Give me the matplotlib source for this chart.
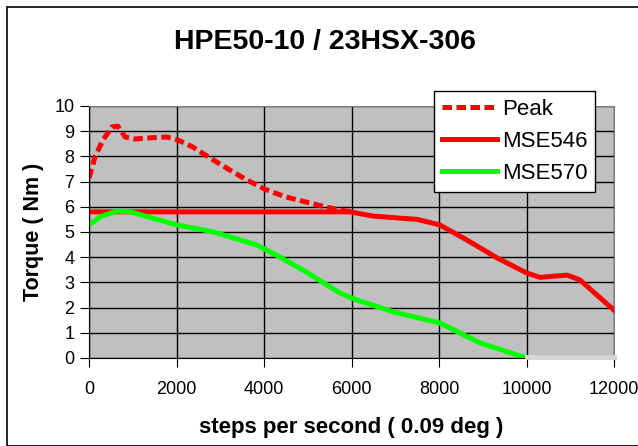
import matplotlib.pyplot as plt
from matplotlib.patches import Rectangle

plt.rcParams['font.family'] = ['Liberation Sans', 'DejaVu Sans']

# Peak torque curve (dashed)
peak_x = [0, 137, 320, 525, 660, 825, 1050, 1325, 1780, 2035, 2375, 2765, 3180,
          3610, 4020, 4480, 4935, 5440, 5965]
peak_y = [7.14, 7.98, 8.65, 9.17, 9.2, 8.77, 8.69, 8.73, 8.77, 8.65, 8.37, 7.94,
          7.5, 7.06, 6.7, 6.4, 6.2, 5.98, 5.8]

# MSE546 drive
mse546_x = [0, 1000, 2000, 3000, 4000, 5000, 5965, 6500, 7500, 8020, 8640, 9330,
            10010, 10310, 10930, 11220, 12000]
mse546_y = [5.8, 5.8, 5.8, 5.8, 5.8, 5.8, 5.8, 5.63, 5.5, 5.28, 4.68, 3.97,
            3.37, 3.2, 3.29, 3.1, 1.9]

# MSE570 drive
mse570_x = [0, 250, 640, 940, 2010, 2850, 3840, 4370, 4890, 5735, 6125, 6950,
            8020, 8935, 10000]
mse570_y = [5.28, 5.6, 5.83, 5.8, 5.28, 5.0, 4.48, 4.0, 3.49, 2.58, 2.3, 1.83,
            1.39, 0.6, 0.0]

fig = plt.figure(figsize=(6.38, 4.46), dpi=100)
fig.patches.append(Rectangle((7 / 638, 0), 1, 1 - 7 / 446, transform=fig.transFigure,
                             fill=False, edgecolor='black', linewidth=1.2))
ax = fig.add_axes([89 / 638, 88 / 446, 525 / 638, 252 / 446])
ax.set_facecolor('#c0c0c0')

ax.plot(peak_x, peak_y, color='#ff0000', lw=3.6, linestyle=(0, (1.9, 0.9)), label='Peak')
ax.plot(mse546_x, mse546_y, color='#ff0000', lw=3.6, label='MSE546')
ax.plot(mse570_x, mse570_y, color='#00ff00', lw=3.6, label='MSE570')
ax.plot([10000, 12000], [0.03, 0.03], color='#d4d4d4', lw=3.5, zorder=3, clip_on=False)

ax.set_xlim(0, 12000)
ax.set_ylim(0, 10)
ax.set_xticks(range(0, 12001, 2000))
ax.set_yticks(range(0, 11))
ax.grid(True, color='black', linewidth=1)
ax.set_axisbelow(True)
for s in ax.spines.values():
    s.set_color('#808080')
ax.spines['left'].set_color('black')
ax.spines['bottom'].set_color('black')
ax.tick_params(labelsize=13, length=6.5, direction='out')
ax.tick_params(axis='x', pad=10)
ax.tick_params(axis='y', pad=4)

fig.text(325 / 638, 1 - 42 / 446, 'HPE50-10 / 23HSX-306', fontsize=20.5,
         fontweight='bold', ha='center', va='center')
fig.text(351 / 638, 1 - 427 / 446, 'steps per second ( 0.09 deg )', fontsize=16,
         fontweight='bold', ha='center', va='center')
fig.text(33 / 638, 1 - 232 / 446, 'Torque ( Nm )', fontsize=15.5,
         fontweight='bold', ha='center', va='center', rotation=90)

leg = ax.legend(loc='upper left', bbox_to_anchor=(345 / 525, 1 + 15 / 252), fontsize=16,
                fancybox=False, framealpha=1, edgecolor='black', borderpad=0.35,
                handlelength=2.5, handletextpad=0.2, labelspacing=0.5,
                borderaxespad=0)
leg.get_frame().set_linewidth(1)

plt.savefig('out.png', dpi=100)
